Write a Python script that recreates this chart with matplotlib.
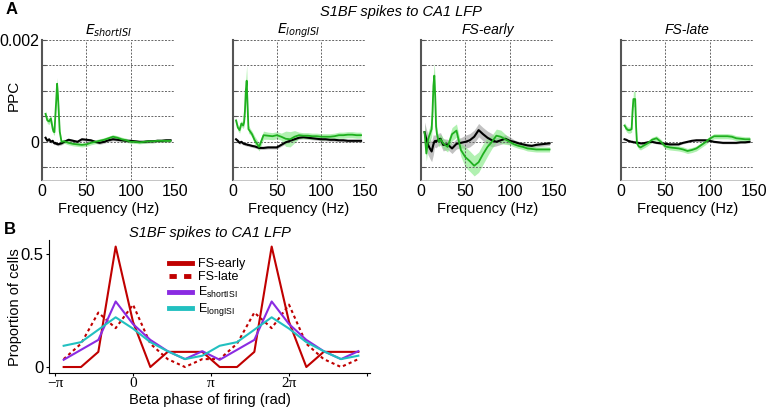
import numpy as np
import matplotlib.pyplot as plt

plt.rcParams['font.family'] = ['Liberation Sans', 'DejaVu Sans']

# ---- panel A data (PPC in units of 1e-4) ----
freqs = [4, 6, 8, 10, 12, 13, 14, 15, 16, 17, 18, 20, 22, 25, 30, 35, 40, 45, 50, 55,
         60, 65, 70, 75, 80, 85, 90, 95, 100, 105, 110, 115, 120, 125, 130, 135, 140, 145]

titles = [r'$E_{shortISI}$', r'$E_{longISI}$', 'FS-early', 'FS-late']

green_mean = [
    [5.5, 4.2, 4.0, 4.6, 2.6, 2.0, 1.9, 5.0, 8.0, 11.4, 9.0, 2.0, 0.0, 0.1, -0.2, -0.4, -0.5, -0.6, -0.5, -0.2,
     0.0, 0.2, 0.4, 0.7, 1.0, 0.8, 0.5, 0.3, 0.0, 0.0, -0.1, 0.0, 0.1, 0.1, 0.2, 0.2, 0.2, 0.2],
    [4.2, 2.8, 2.3, 3.6, 3.2, 3.8, 6.0, 10.0, 12.0, 7.0, 2.5, 2.0, 1.5, 0.3, -1.0, 1.3, 1.2, 1.1, 1.3, 1.0,
     0.6, 0.5, 1.0, 1.3, 1.2, 1.2, 1.1, 1.1, 1.0, 1.0, 1.0, 1.1, 1.3, 1.3, 1.4, 1.4, 1.3, 1.3],
    [1.9, -2.3, 0.5, 1.5, 2.5, 6.0, 11.0, 13.0, 9.0, 3.0, 1.5, 0.0, 0.5, -0.3, -1.0, 1.5, 2.2, -1.6, -3.0, -3.8,
     -4.7, -4.0, -2.4, -1.0, 0.0, 1.2, 1.0, 0.5, 0.0, -0.5, -0.8, -1.0, -1.3, -1.4, -1.5, -1.5, -1.5, -1.5],
    [3.2, 2.6, 2.3, 2.3, 2.5, 6.0, 8.4, 8.4, 8.4, 3.0, -0.3, -0.9, -1.1, -0.8, -0.3, 0.4, 0.7, 0.0, -0.9, -1.1,
     -1.2, -1.3, -1.5, -1.8, -1.6, -1.3, -0.7, -0.1, 0.6, 1.1, 1.1, 1.1, 1.1, 1.0, 0.7, 0.6, 0.5, 0.5],
]
green_sem = [
    [0.6, 0.6, 0.6, 0.6, 0.6, 0.6, 0.6, 0.8, 1.0, 1.2, 1.0, 0.6, 0.4, 0.4, 0.4, 0.4, 0.4, 0.4, 0.4, 0.4,
     0.4, 0.4, 0.4, 0.4, 0.4, 0.4, 0.4, 0.4, 0.3, 0.3, 0.3, 0.3, 0.3, 0.3, 0.3, 0.3, 0.3, 0.3],
    [0.6, 0.6, 0.6, 0.6, 0.6, 0.8, 1.5, 2.5, 3.0, 2.0, 0.8, 0.6, 0.6, 0.8, 0.8, 0.8, 0.7, 0.7, 0.7, 0.7,
     1.5, 1.5, 1.2, 0.6, 0.6, 0.6, 0.6, 0.6, 0.6, 0.6, 0.6, 0.6, 0.6, 0.6, 0.6, 0.6, 0.6, 0.6],
    [1.5, 1.5, 1.5, 1.5, 1.5, 2.0, 2.5, 2.5, 2.5, 2.0, 1.0, 1.0, 1.0, 1.0, 1.0, 1.3, 1.3, 1.3, 2.0, 2.0,
     2.0, 2.0, 2.0, 1.8, 1.3, 1.3, 1.3, 1.0, 0.6, 0.5, 0.5, 0.5, 0.5, 0.5, 0.5, 0.5, 0.5, 0.5],
    [0.6, 0.6, 0.6, 0.6, 0.6, 1.0, 1.5, 1.5, 1.5, 1.0, 0.5, 0.5, 0.5, 0.5, 0.5, 0.5, 0.5, 0.5, 0.5, 0.5,
     0.5, 0.5, 0.5, 0.5, 0.5, 0.5, 0.5, 0.5, 0.5, 0.5, 0.5, 0.5, 0.5, 0.5, 0.5, 0.5, 0.5, 0.5],
]
black_mean = [
    [0.8, 0.2, 0.5, 0.0, 0.2, -0.1, -0.3, -0.2, -0.4, -0.4, -0.5, -0.4, -0.3, 0.0, 0.4, 0.2, 0.0, 0.5, 0.4, 0.3,
     0.0, -0.2, 0.0, 0.3, 0.5, 0.4, 0.3, 0.2, 0.2, 0.1, 0.0, 0.0, 0.1, 0.1, 0.2, 0.2, 0.3, 0.3],
    [0.5, 0.2, -0.2, 0.0, -0.3, -0.4, -0.4, -0.5, -0.5, -0.6, -0.6, -0.7, -0.8, -0.9, -1.2, -1.2, -1.1, -1.1, -1.1, -0.6,
     -0.1, 0.2, 0.5, 0.8, 0.9, 0.8, 0.7, 0.6, 0.5, 0.5, 0.4, 0.4, 0.3, 0.3, 0.2, 0.2, 0.2, 0.2],
    [1.9, 0.5, -0.6, -1.3, -1.9, -1.2, -0.5, 0.0, 0.2, 0.0, 0.2, 0.5, 0.6, -0.6, -0.5, -1.3, -0.4, -0.2, 0.0, 0.3,
     1.0, 2.3, 1.5, 0.8, 0.3, 0.0, 0.3, 0.6, 0.2, 0.0, -0.3, -0.5, -0.7, -0.8, -0.6, -0.5, -0.4, -0.3],
    [0.5, 0.4, 0.2, 0.1, 0.0, 0.0, -0.1, -0.1, -0.1, -0.2, -0.2, -0.2, -0.3, -0.3, -0.1, 0.0, -0.2, -0.3, -0.4, -0.5,
     -0.5, -0.5, -0.2, 0.0, 0.2, 0.3, 0.3, 0.3, 0.2, 0.0, -0.1, -0.2, -0.2, -0.2, -0.2, -0.1, -0.1, 0.0],
]
black_sem = [
    [0.3] * 38,
    [0.3] * 38,
    [2.0, 2.0, 2.0, 2.0, 2.0, 2.0, 2.0, 1.2, 1.2, 1.2, 1.2, 1.2, 1.2, 1.2, 1.0, 1.0, 1.0, 1.0, 1.3, 1.3,
     1.3, 1.3, 1.3, 1.3, 1.3, 0.8, 0.8, 0.8, 0.8, 0.4, 0.4, 0.4, 0.4, 0.4, 0.4, 0.4, 0.4, 0.4],
    [0.2] * 38,
]

# ---- panel B data (9 phase bins, shown over two cycles) ----
fs_early = [0.0, 0.0, 0.067, 0.533, 0.2, 0.0, 0.067, 0.067, 0.067]
fs_late = [0.035, 0.103, 0.241, 0.172, 0.276, 0.103, 0.035, 0.0, 0.035]
e_short = [0.032, 0.076, 0.12, 0.29, 0.19, 0.12, 0.07, 0.035, 0.07]
e_long = [0.094, 0.11, 0.165, 0.22, 0.17, 0.11, 0.07, 0.035, 0.05]

fig = plt.figure(figsize=(7.67, 4.08), dpi=100)
W, H = 767, 408

def px_axes(x0, y0, x1, y1):
    return fig.add_axes([x0 / W, 1 - y1 / H, (x1 - x0) / W, (y1 - y0) / H])

lefts = [42, 232.5, 421, 621]
for i in range(4):
    ax = px_axes(lefts[i], 40, lefts[i] + 133, 180)
    f = np.array(freqs)
    gm = np.array(green_mean[i]) * 1e-4
    gs = np.array(green_sem[i]) * 1e-4
    bm = np.array(black_mean[i]) * 1e-4
    bs = np.array(black_sem[i]) * 1e-4
    ax.fill_between(f, bm - bs, bm + bs, color='#9a9a9a', alpha=0.6, lw=0)
    ax.fill_between(f, gm - gs, gm + gs, color='#7ee87e', alpha=0.6, lw=0)
    ax.plot(f, bm, color='black', lw=1.5)
    ax.plot(f, gm, color='#1fb01f', lw=1.3)
    ax.set_xlim(0, 150)
    ax.set_ylim(-0.00075, 0.002)
    ax.set_xticks([0, 50, 100, 150])
    ax.set_yticks([-0.0005, 0, 0.0005, 0.001, 0.0015, 0.002])
    ax.grid(True, ls=(0, (2, 1.5)), color='#666666', lw=0.7)
    for s in ['top', 'right']:
        ax.spines[s].set_visible(False)
    ax.spines['left'].set_color('#555555')
    ax.spines['left'].set_linewidth(1.5)
    ax.spines['bottom'].set_color('#bbbbbb')
    ax.spines['bottom'].set_linewidth(0.6)
    ax.tick_params(axis='x', length=0, labelsize=11.5, pad=3)
    ax.tick_params(axis='y', length=3, direction='in', color='#555555', labelsize=11.5, pad=2)
    if i == 0:
        ax.set_yticklabels(['', '0', '', '', '', '0.002'])
    else:
        ax.set_yticklabels([])
    ax.set_xlabel('Frequency (Hz)', fontsize=10.5, labelpad=2)
    ax.set_title(titles[i], fontsize=10, style='italic', pad=4)

fig.text(14 / W, 1 - 95 / H, 'PPC', rotation=90, ha='center', va='center', fontsize=11)
fig.text(401 / W, 1 - 12 / H, 'S1BF spikes to CA1 LFP', ha='center', va='center',
         fontsize=10.5, style='italic')
fig.text(6 / W, 1 - 10 / H, 'A', fontsize=12, fontweight='bold', va='center')
fig.text(4 / W, 1 - 229 / H, 'B', fontsize=12, fontweight='bold', va='center')

# ---- panel B ----
axb = px_axes(49, 240, 370, 373)
k = np.arange(18)
x = -np.pi + np.pi / 9 + k * 2 * np.pi / 9
axb.plot(x, fs_early * 2, color='#c00000', lw=1.5, label='FS-early')
axb.plot(x, fs_late * 2, color='#c00000', lw=1.5, ls=(0, (1.5, 1.5)), label='FS-late')
axb.plot(x, e_short * 2, color='#8a2be2', lw=1.5, label=r'E$_{\mathregular{shortISI}}$')
axb.plot(x, e_long * 2, color='#22c0c0', lw=1.5, label=r'E$_{\mathregular{longISI}}$')
axb.set_xlim(-3.383, 9.545)
axb.set_ylim(-0.0265, 0.562)
axb.set_xticks([-np.pi, 0, np.pi, 2 * np.pi, 3 * np.pi])
axb.set_xticklabels(['\u2212\u03c0', '0', '\u03c0', '2\u03c0', ''], family='Liberation Serif', fontsize=11)
axb.set_yticks([0, 0.5])
axb.set_yticklabels(['0', '0.5'], fontsize=12)
for s in ['top', 'right']:
    axb.spines[s].set_visible(False)
axb.tick_params(axis='x', length=2.5, pad=0.5)
axb.tick_params(axis='y', length=2.5, pad=1.5)
fig.text(210 / W, 1 - 400 / H, 'Beta phase of firing (rad)', ha='center', va='center', fontsize=10.5)
fig.text(15 / W, 1 - 307 / H, 'Proportion of cells', rotation=90, ha='center', va='center', fontsize=10.5)
axb.set_title('S1BF spikes to CA1 LFP', fontsize=10.5, style='italic', pad=2)
leg = axb.legend(loc='upper left', bbox_to_anchor=(0.34, 0.95), frameon=False, fontsize=9,
                 handlelength=1.8, labelspacing=0.12, handletextpad=0.5)
for line in leg.get_lines():
    line.set_linewidth(3.5)

fig.savefig('out.png', dpi=100)
